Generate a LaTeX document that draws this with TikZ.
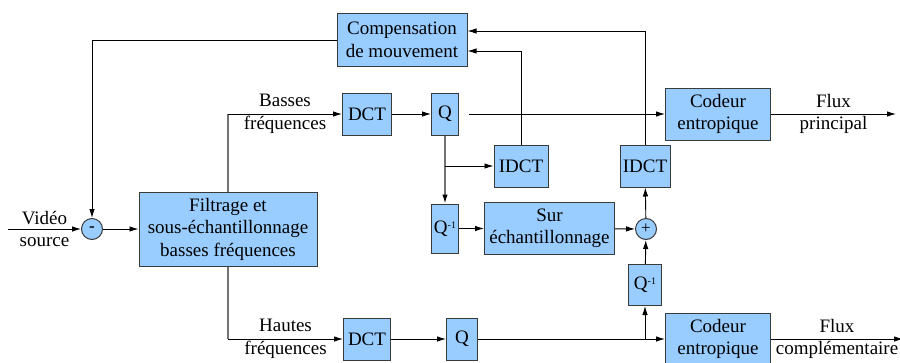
\documentclass[tikz,border=0pt]{standalone}
\usepackage{fontspec}
\setmainfont{Liberation Serif}
\usepackage{xcolor}
\usetikzlibrary{arrows.meta,positioning,calc}
\definecolor{blocbleu}{HTML}{99CCFF}
\definecolor{blocbord}{HTML}{3A3A3A}
\newcommand{\Qinv}{Q\raisebox{0.55ex}{\fontsize{10}{10}\selectfont -1}}
\tikzset{
    blocbox/.style={
        draw=blocbord, line width=1pt, fill=blocbleu, align=center,
        inner sep=0pt, font=\fontsize{19}{22.5}\selectfont},
    blocsomme/.style={
        draw=blocbord, line width=1pt, fill=blocbleu, circle,
        minimum size=21pt, inner sep=0pt, font=\fontsize{17}{17}\selectfont},
    bloclabel/.style={align=center, font=\fontsize{19}{22.5}\selectfont},
    blocflux/.style={-{Latex[length=9pt,width=5.5pt,color=black]}, line width=0.9pt},
    blocgris/.style={draw=black!55, line width=1.3pt},
}

\begin{document}
\begin{tikzpicture}[x=1pt, y=-1pt]
    \useasboundingbox (0,0) rectangle (900,362);

    % --- Entree et filtrage -------------------------------------------------------
    \coordinate (entree) at (8,229);
    \node[blocsomme] (moins) at (92,229) {\textbf{-}};
    \node[blocbox, minimum width=178pt, minimum height=74pt] (filt) at (228,229) {%
        Filtrage et\\sous-échantillonnage\\basses fréquences};

    % --- Compensation -------------------------------------------------------------
    \node[blocbox, minimum width=130pt, minimum height=53pt] (comp) at (402,40) {%
        Compensation\\de mouvement};

    % --- Basses frequences --------------------------------------------------------
    \node[blocbox, minimum width=49pt, minimum height=42pt] (dcth) at (367,114) {DCT};
    \node[blocbox, minimum width=27pt, minimum height=42pt, right=39pt of dcth] (qh) {Q};
    \node[blocbox, minimum width=54pt, minimum height=42pt] (idcta) at (521,166) {IDCT};
    \node[blocbox, minimum width=27pt, minimum height=49pt, below=68pt of qh] (qinva) {\Qinv};
    \node[blocbox, minimum width=130pt, minimum height=52pt, right=25pt of qinva] (sur) {%
        Sur\\échantillonnage};
    \node[blocsomme] (plus) at (646,229) {+};
    \node[blocbox, minimum width=50pt, minimum height=42pt] (idctb) at (645,166) {IDCT};
    \node[blocbox, minimum width=105pt, minimum height=52pt] (codh) at (718,114) {%
        Codeur\\entropique};
    \coordinate (sortieh) at (896,114);
    \coordinate (coinh) at (filt.north |- dcth);

    % --- Hautes frequences --------------------------------------------------------
    \node[blocbox, minimum width=47pt, minimum height=42pt] (dctb) at (367,339) {DCT};
    \node[blocbox, minimum width=31pt, minimum height=42pt] (qb) at (462,339) {Q};
    \node[blocbox, minimum width=33pt, minimum height=41pt] (qinvb) at (645,285) {\Qinv};
    \node[blocbox, minimum width=105pt, minimum height=52pt] (codb) at (718,339) {%
        Codeur\\entropique};
    \coordinate (sortieb) at (903,339);
    \coordinate (coinb) at (filt.south |- dctb);

    % --- Fleches ------------------------------------------------------------------
    \draw[blocflux] (entree) -- node[bloclabel] {Vidéo\\source} (moins);
    \draw[blocflux] (moins) -- (filt);
    \draw[blocgris] (filt.north) -- (coinh);
    \draw[blocflux] (coinh) -- node[bloclabel] {Basses\\fréquences} (dcth);
    \draw[blocflux] (dcth) -- (qh);
    \draw[blocflux, shorten <=10pt] (qh) -- (codh);
    \draw[blocflux] (codh) -- node[bloclabel] {Flux\\principal} (sortieh);
    \draw[blocflux, blocgris] (qh) -- (qinva);
    \draw[blocflux] (qh |- idcta) -- (idcta);
    \draw[blocflux] (idcta.north) |- ([yshift=-11pt]comp.east);
    \draw[blocflux] (idctb.north) |- ([yshift=9pt]comp.east);
    \draw[blocflux] (comp.west) -| (moins.north);
    \draw[blocflux] (qinva) -- (sur);
    \draw[blocflux] (sur) -- (plus);
    \draw[blocflux] (plus) -- (idctb);
    \draw[blocflux] (qinvb) -- (plus);
    \draw[blocgris] (filt.south) -- (coinb);
    \draw[blocflux] (coinb) -- node[bloclabel] {Hautes\\fréquences} (dctb);
    \draw[blocflux] (dctb) -- (qb);
    \draw[blocflux] (qb) -- (codb);
    \draw[blocflux] (qinvb |- qb) -- (qinvb);
    \draw[blocflux] (codb) -- node[bloclabel] {Flux\\complémentaire} (sortieb);

\end{tikzpicture}
\end{document}
